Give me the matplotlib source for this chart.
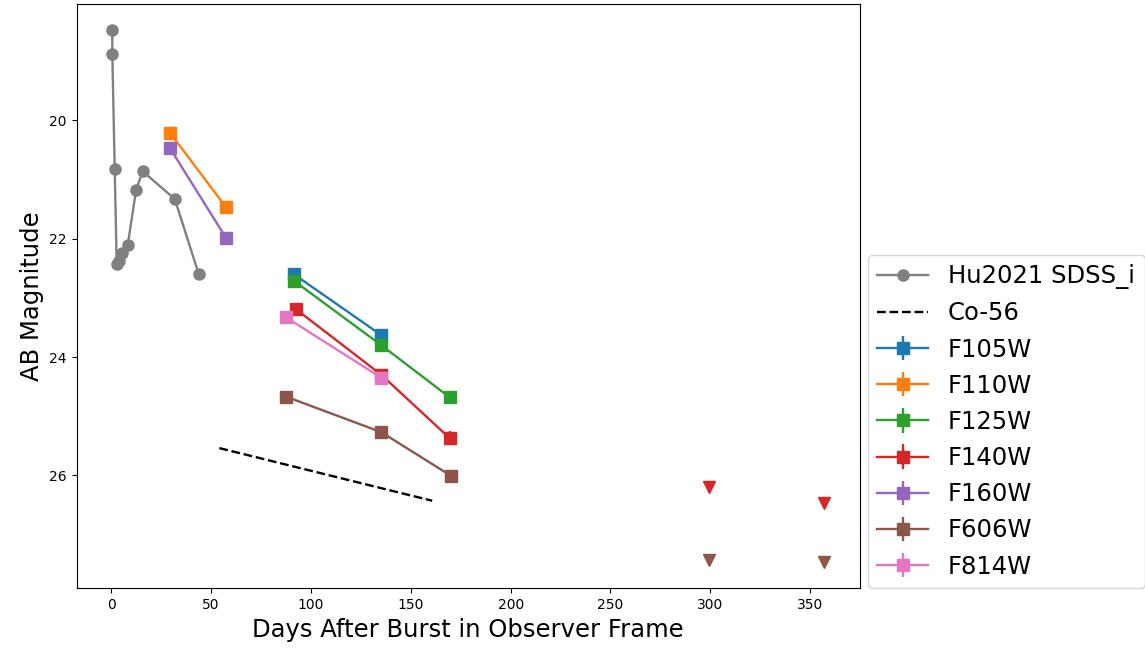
import matplotlib.pyplot as plt
import numpy as np

# Hu2021 SDSS i-band light curve
hu_days = [0.5, 0.5, 1.7, 2.7, 3.7, 5.2, 8.2, 12.4, 15.7, 31.8, 43.7]
hu_mag = [18.48, 18.87, 20.82, 22.43, 22.38, 22.25, 22.11, 21.18, 20.86, 21.33, 22.59]

# Co-56 decay reference line
co_days = [54.1, 160.7]
co_mag = [25.54, 26.43]

# HST photometry
filters = ['F105W', 'F110W', 'F125W', 'F140W', 'F160W', 'F606W', 'F814W']
hst_days = {
    'F105W': [91.4, 135.2],
    'F110W': [29.4, 57.5],
    'F125W': [91.4, 135.2, 169.4],
    'F140W': [92.4, 135.2, 169.4],
    'F160W': [29.4, 57.5],
    'F606W': [87.5, 135.2, 170.2],
    'F814W': [87.5, 135.2],
}
hst_mag = {
    'F105W': [22.60, 23.63],
    'F110W': [20.21, 21.47],
    'F125W': [22.71, 23.80, 24.68],
    'F140W': [23.19, 24.30, 25.37],
    'F160W': [20.47, 21.99],
    'F606W': [24.67, 25.27, 26.01],
    'F814W': [23.33, 24.35],
}
hst_err = {
    'F105W': [0.03, 0.04],
    'F110W': [0.02, 0.03],
    'F125W': [0.03, 0.04, 0.05],
    'F140W': [0.03, 0.05, 0.12],
    'F160W': [0.02, 0.03],
    'F606W': [0.03, 0.04, 0.06],
    'F814W': [0.03, 0.05],
}
colors = {
    'F105W': 'tab:blue', 'F110W': 'tab:orange', 'F125W': 'tab:green',
    'F140W': 'tab:red', 'F160W': 'tab:purple', 'F606W': 'tab:brown',
    'F814W': 'tab:pink',
}

# upper limits
lim_days = {'F140W': [299.5, 357.1], 'F606W': [299.5, 357.1]}
lim_mag = {'F140W': [26.20, 26.47], 'F606W': [27.43, 27.46]}

fig, ax = plt.subplots(figsize=(11.45, 6.5), dpi=100)
plt.subplots_adjust(left=0.067, right=0.751, top=0.994, bottom=0.095)

ax.plot(hu_days, hu_mag, 'o-', color='gray', markersize=8, lw=1.7, label='Hu2021 SDSS_i')
ax.plot(co_days, co_mag, 'k--', lw=1.7, label='Co-56')

for f in filters:
    ax.errorbar(hst_days[f], hst_mag[f], yerr=hst_err[f], fmt='s-', lw=1.7,
                color=colors[f], markersize=8, label=f)

for f in lim_days:
    ax.plot(lim_days[f], lim_mag[f], 'v', color=colors[f], markersize=8, linestyle='none')

ax.invert_yaxis()
ax.set_xlabel('Days After Burst in Observer Frame', fontsize=17.5)
ax.set_ylabel('AB Magnitude', fontsize=17.5)
ax.legend(fontsize=17.5, loc='lower left', bbox_to_anchor=(1.01, 0), borderaxespad=0,
          handlelength=2.1)

plt.savefig('out.png', dpi=100)
